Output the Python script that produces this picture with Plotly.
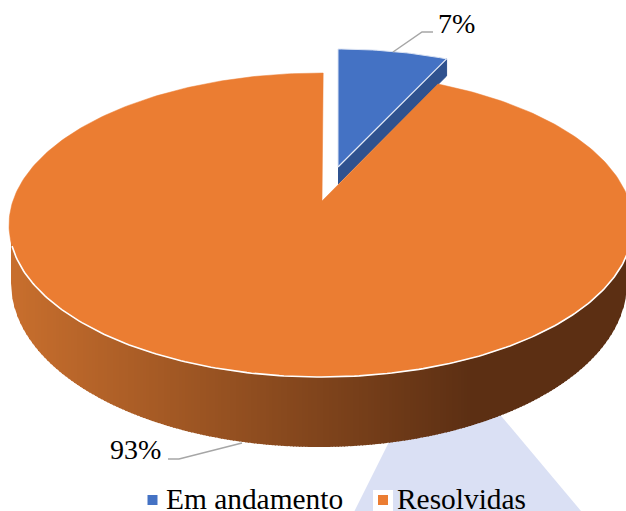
import numpy as np
import plotly.graph_objects as go

categories = ["Em andamento", "Resolvidas"]
shares = [7, 93]
labels = ["7%", "93%"]
colors = ["#4472C4", "#EB7D32"]

# Pie geometry in screen pixels (3D perspective look)
W, H = 626, 511
ORANGE = dict(cx=321, cy=225, a=312, b=152)
BLUE = dict(cx=338, cy=190, a=295, b=141)
BOTTOM = dict(cx=319, cy=283, a=308, b=164)
START_DEG = 0.4
FORESHORTEN = 0.857   # perspective squeezes the rear slice
ORANGE_APEX = (322, 201)
BLUE_APEX = (338, 167)
BLUE_DROP = 17


def pt(e, t):
    r = np.radians(t)
    return e["cx"] + e["a"] * np.sin(r), e["cy"] - e["b"] * np.cos(r)


def lower(e, x):
    u = np.clip((x - e["cx"]) / e["a"], -1, 1)
    return e["cy"] + e["b"] * np.sqrt(1 - u ** 2)


sweep = 360 * shares[0] / sum(shares) * FORESHORTEN
fig = go.Figure()


def poly(xs, ys, fill, line=None, lw=1):
    fig.add_trace(go.Scatter(x=list(xs), y=list(ys), mode="lines", fill="toself", fillcolor=fill,
                             line=dict(color=line or fill, width=lw), showlegend=False, hoverinfo="skip"))


# Blue slice: side, then top
ex, ey = pt(BLUE, sweep)
poly([BLUE_APEX[0], ex, ex, BLUE_APEX[0]], [BLUE_APEX[1], ey, ey + BLUE_DROP, BLUE_APEX[1] + BLUE_DROP], "#2F528F")
ts = np.linspace(0, sweep, 30)
bx, by = pt(BLUE, ts)
poly([BLUE_APEX[0], *bx], [BLUE_APEX[1], *by], colors[0], "#DCE4F3", 1)

# Orange rim: narrow vertical strips painted left to right give a smooth gradient
c0, c1 = np.array([199, 110, 45]), np.array([92, 47, 19])
GRAD_END = 470
STEP = 3
for x0 in np.arange(BOTTOM["cx"] - BOTTOM["a"], W, STEP):
    xs = np.linspace(x0, x0 + STEP + 1, 4)
    yt = lower(ORANGE, xs) - 4
    yb = lower(BOTTOM, xs)
    f = min(1, max(0, (x0 - 14) / (GRAD_END - 14)))
    c = c0 + (c1 - c0) * f
    poly([*xs, *xs[::-1]], [*yt, *yb[::-1]], f"rgb({c[0]:.0f},{c[1]:.0f},{c[2]:.0f})", lw=0)

# Orange top
ts = np.linspace(START_DEG + sweep, 360 + START_DEG, 360)
ox, oy = pt(ORANGE, ts)
poly([ORANGE_APEX[0], *ox, ORANGE_APEX[0]], [ORANGE_APEX[1], *oy, ORANGE_APEX[1]], colors[1], colors[1], 0.5)
# White highlight along the front edge
wx, wy = pt(ORANGE, np.linspace(90, 262, 200))
fig.add_trace(go.Scatter(x=wx, y=wy, mode="lines", line=dict(color="white", width=1.6), showlegend=False, hoverinfo="skip"))
fig.add_trace(go.Scatter(x=[BLUE_APEX[0], ex], y=[BLUE_APEX[1], ey], mode="lines",
                         line=dict(color="#E6ECF8", width=1.2), showlegend=False, hoverinfo="skip"))

# Legend entries, placed by hand so the band can sit at the very bottom edge
LEGEND_Y = 499
legend_marker_x = [152.5, 383]
legend_text_x = [164.5, 395.5]
for name, col, mx in zip(categories, colors, legend_marker_x):
    fig.add_trace(go.Scatter(x=[mx], y=[500], mode="markers", name=name, showlegend=False,
                             marker=dict(symbol="square", size=10, color=col), hoverinfo="name"))

# Leader lines
for xs, ys in [([393, 422, 433], [52, 32, 32]), ([168, 179, 242], [459, 459, 443])]:
    fig.add_trace(go.Scatter(x=xs, y=ys, mode="lines", line=dict(color="#A6A6A6", width=1.5),
                             showlegend=False, hoverinfo="skip"))

font = dict(family="Liberation Serif", size=28, color="#000000")
legend_font = dict(font, size=29.4)
annots = [dict(x=456, y=23.5, text=labels[0], font=font), dict(x=135, y=449, text=labels[1], font=font)]
annots += [dict(x=tx, y=LEGEND_Y, text=name, xanchor="left", font=legend_font)
           for tx, name in zip(legend_text_x, categories)]

fig.update_layout(
    width=W, height=H, margin=dict(l=0, r=0, t=0, b=0),
    paper_bgcolor="white", plot_bgcolor="white", font=font, showlegend=False,
    xaxis=dict(range=[0, W], visible=False, fixedrange=True),
    yaxis=dict(range=[H, 0], visible=False, fixedrange=True),
    annotations=[dict(a, xref="x", yref="y", showarrow=False, borderpad=0) for a in annots],
    shapes=[
        dict(type="path", path="M354.5,511 L439,342 L581,511 Z", fillcolor="#DAE0F4", line=dict(width=0), layer="below"),
        dict(type="rect", x0=373, x1=393, y0=490, y1=511, fillcolor="white", line=dict(width=0), layer="below"),
    ],
)
fig.write_html("out.html", config=dict(displayModeBar=False),
               post_script="document.body.style.margin='0';document.body.style.overflow='hidden';")
